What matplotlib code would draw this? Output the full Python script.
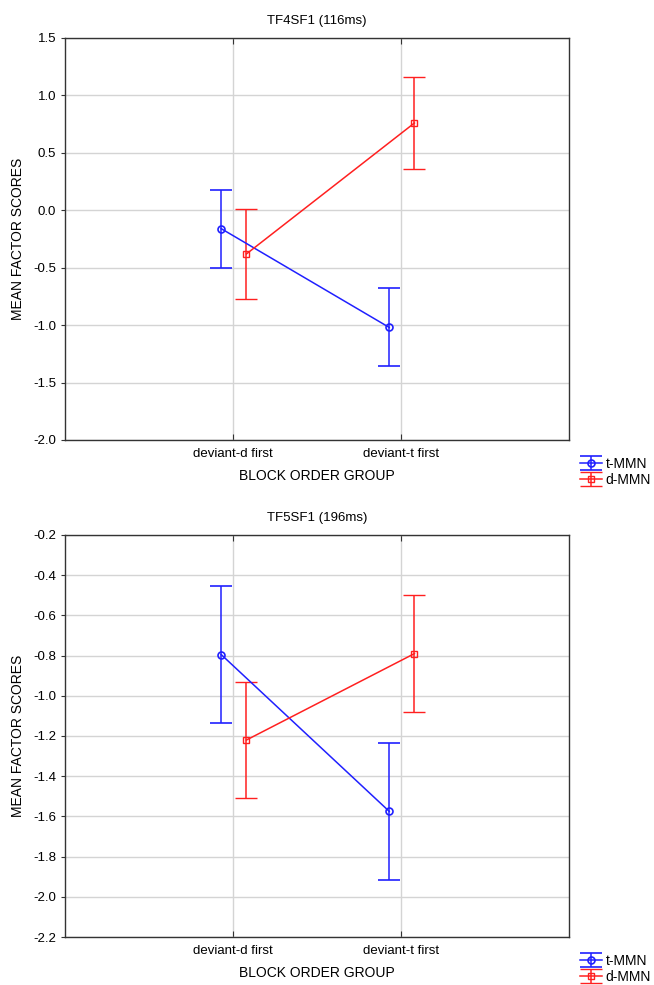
import matplotlib
matplotlib.use("Agg")
import matplotlib.pyplot as plt
import numpy as np

plt.rcParams['font.family'] = ['Liberation Sans', 'DejaVu Sans']

categories = ["deviant-d first", "deviant-t first"]
series_names = ["t-MMN", "d-MMN"]

titles = ["TF4SF1 (116ms)", "TF5SF1 (196ms)"]

# panel 1
p1_t_mean = [-0.16, -1.02]
p1_t_err = [0.34, 0.34]
p1_d_mean = [-0.38, 0.76]
p1_d_err = [0.39, 0.40]

# panel 2
p2_t_mean = [-0.795, -1.575]
p2_t_err = [0.34, 0.34]
p2_d_mean = [-1.22, -0.79]
p2_d_err = [0.29, 0.29]

p1_yticks = [1.5, 1.0, 0.5, 0.0, -0.5, -1.0, -1.5, -2.0]
p2_yticks = [-0.2, -0.4, -0.6, -0.8, -1.0, -1.2, -1.4, -1.6, -1.8, -2.0, -2.2]

fig = plt.figure(figsize=(6.54, 9.85), dpi=100)
W, H = 654, 985

def add_ax(left, top, right, bottom):
    return fig.add_axes([left / W, 1 - bottom / H, (right - left) / W, (bottom - top) / H])

ax1 = add_ax(65, 38, 569, 440)
ax2 = add_ax(65, 535, 569, 937)

panels = [
    (ax1, p1_t_mean, p1_t_err, p1_d_mean, p1_d_err, p1_yticks, "%.1f"),
    (ax2, p2_t_mean, p2_t_err, p2_d_mean, p2_d_err, p2_yticks, "%.1f"),
]

blue = "#2020ff"
red = "#ff2020"

for i, (ax, tm, te, dm, de, yt, fmt) in enumerate(panels):
    x = np.arange(1, len(categories) + 1)
    h1 = ax.errorbar(x - 0.07, tm, yerr=te, color=blue, marker='o', ms=5,
                     mfc='none', mew=1.2, lw=1.1, capsize=8, capthick=1.1,
                     label=series_names[0], zorder=3)
    h2 = ax.errorbar(x + 0.08, dm, yerr=de, color=red, marker='s', ms=5,
                     mfc='none', mew=1.0, lw=1.1, capsize=8, capthick=1.1,
                     label=series_names[1], zorder=3)
    ax.set_xlim(0, 3)
    ax.set_ylim(min(yt), max(yt))
    ax.set_yticks(yt)
    ax.set_yticklabels([fmt % v for v in yt])
    ax.set_xticks(x)
    ax.set_xticklabels(categories)
    ax.grid(True, color="#d4d4d4", lw=1.0)
    ax.set_axisbelow(True)
    ax.tick_params(axis='x', direction='in', top=True, length=4, labelsize=9.5, pad=6, color="#333333")
    ax.tick_params(axis='y', direction='out', length=3, labelsize=9.5, color="#333333")
    for s in ax.spines.values():
        s.set_color("#333333")
        s.set_linewidth(1.0)
    ax.set_title(titles[i], fontsize=9.5, pad=10)
    ax.set_xlabel("BLOCK ORDER GROUP", fontsize=10, labelpad=6)
    ax.set_ylabel("MEAN FACTOR SCORES", fontsize=10, labelpad=6)
    ax.legend(handles=[h1, h2], loc='upper left', bbox_to_anchor=(1.022, -0.042),
              frameon=False, fontsize=10, handlelength=1.6, handletextpad=0.25,
              labelspacing=0.12, borderaxespad=0, borderpad=0)

fig.savefig("out.png", dpi=100, facecolor='white')
